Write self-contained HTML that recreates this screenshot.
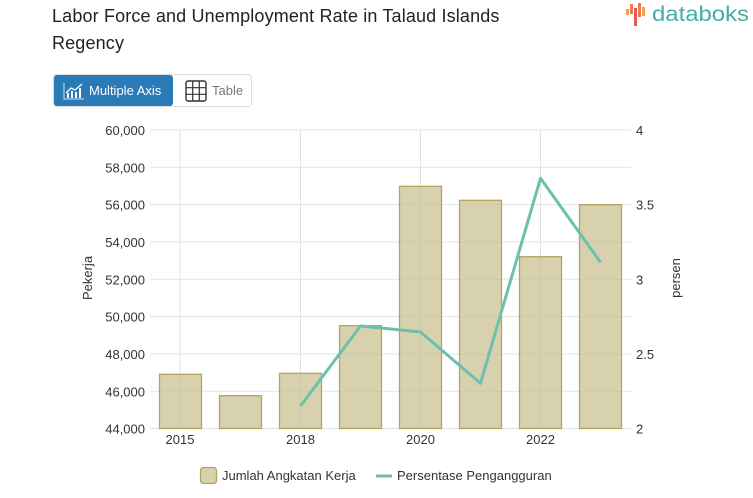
<!DOCTYPE html>
<html><head><meta charset="utf-8"><style>
html,body{margin:0;padding:0;background:#fff;}
body{width:753px;height:498px;position:relative;overflow:hidden;font-family:"Liberation Sans",sans-serif;}
.title{position:absolute;left:52px;top:3px;font-size:18px;line-height:27px;color:#222;width:470px;letter-spacing:0.15px;}
.logo{position:absolute;left:626px;top:0;}
.btns{position:absolute;left:53px;top:74px;width:199px;height:33px;border:1px solid #ddd;border-radius:4px;box-sizing:border-box;}
.b1{position:absolute;left:0;top:0;width:119px;height:31px;background:#2a7ab8;border-radius:3px;color:#fff;font-size:13px;}
.b2{position:absolute;left:119px;top:0;width:79px;height:31px;color:#777;font-size:13px;}
</style></head><body>
<div class="title">Labor Force and Unemployment Rate in Talaud Islands Regency</div>
<svg class="logo" width="127" height="30" viewBox="0 0 127 30">
<rect x="0" y="9" width="3" height="6" fill="#f0a44a"/>
<rect x="4" y="4" width="3" height="10" fill="#ee7a4f"/>
<rect x="8" y="8" width="3" height="18" fill="#e85a4f"/>
<rect x="12" y="3" width="3" height="14" fill="#ee7a4f"/>
<rect x="16" y="7" width="3" height="9" fill="#f0a44a"/>
<text x="26" y="21" font-family="Liberation Sans, sans-serif" font-size="21" fill="#45ada0" textLength="97" lengthAdjust="spacingAndGlyphs">databoks</text>
</svg>
<div class="btns">
<div class="b1">
<svg style="position:absolute;left:9px;top:7px" width="22" height="18" viewBox="0 0 22 18">
<path d="M1 1 V17 H21" stroke="#cfe2f1" stroke-width="1" fill="none"/>
<rect x="4" y="11" width="2" height="5" fill="#fff"/><rect x="8" y="9" width="2" height="7" fill="#fff"/><rect x="12" y="10" width="2" height="6" fill="#fff"/><rect x="16" y="6" width="2" height="10" fill="#fff"/>
<path d="M3 11 L8 6 L12 8 L19 2" stroke="#fff" stroke-width="1.3" fill="none"/>
</svg>
<span style="position:absolute;left:35px;top:8px">Multiple Axis</span></div>
<div class="b2">
<svg style="position:absolute;left:12px;top:5px" width="22" height="22" viewBox="0 0 22 22">
<rect x="1" y="1" width="20" height="20" rx="2" fill="none" stroke="#333" stroke-width="1.4"/>
<path d="M7.7 1V21M14.3 1V21M1 7.7H21M1 14.3H21" stroke="#333" stroke-width="1.2"/>
</svg>
<span style="position:absolute;left:39px;top:8px">Table</span></div>
</div>
<svg style="position:absolute;left:0;top:0" width="753" height="498">
<g stroke="#e3e3e3" stroke-width="1">
<line x1="150" x2="631" y1="130" y2="130"/>
<line x1="150" x2="631" y1="167.3" y2="167.3"/>
<line x1="150" x2="631" y1="204.6" y2="204.6"/>
<line x1="150" x2="631" y1="242" y2="242"/>
<line x1="150" x2="631" y1="279.3" y2="279.3"/>
<line x1="150" x2="631" y1="316.6" y2="316.6"/>
<line x1="150" x2="631" y1="354" y2="354"/>
<line x1="150" x2="631" y1="391.3" y2="391.3"/>
<line x1="150" x2="631" y1="428.5" y2="428.5"/>
<line x1="180" x2="180" y1="130" y2="428.5"/>
<line x1="300.5" x2="300.5" y1="130" y2="428.5"/>
<line x1="420.5" x2="420.5" y1="130" y2="428.5"/>
<line x1="540.5" x2="540.5" y1="130" y2="428.5"/>
</g>
<g fill="rgba(200,190,140,0.7)" stroke="#b5a45c" stroke-width="1.3">
<rect x="159.5" y="374.3" width="42" height="54.2"/>
<rect x="219.5" y="395.7" width="42" height="32.8"/>
<rect x="279.5" y="373.3" width="42" height="55.2"/>
<rect x="339.5" y="325.7" width="42" height="102.8"/>
<rect x="399.5" y="186.3" width="42" height="242.2"/>
<rect x="459.5" y="200.3" width="42" height="228.2"/>
<rect x="519.5" y="256.7" width="42" height="171.8"/>
<rect x="579.5" y="204.7" width="42" height="223.8"/>
</g>
<polyline points="300.5,406 360.5,326 420.5,332 480.5,383.3 540.5,178.3 600.5,262.3" fill="none" stroke="#6cc0ad" stroke-width="3" stroke-linejoin="round"/>
<g font-size="13" fill="#333" text-anchor="end" font-family="Liberation Sans, sans-serif">
<text x="145" y="135">60,000</text>
<text x="145" y="172.3">58,000</text>
<text x="145" y="209.6">56,000</text>
<text x="145" y="247">54,000</text>
<text x="145" y="284.3">52,000</text>
<text x="145" y="321.6">50,000</text>
<text x="145" y="359">48,000</text>
<text x="145" y="396.3">46,000</text>
<text x="145" y="433.5">44,000</text>
</g>
<g font-size="13" fill="#333" font-family="Liberation Sans, sans-serif">
<text x="636" y="135">4</text>
<text x="636" y="209.6">3.5</text>
<text x="636" y="284.3">3</text>
<text x="636" y="359">2.5</text>
<text x="636" y="433.5">2</text>
</g>
<g font-size="13" fill="#333" text-anchor="middle" font-family="Liberation Sans, sans-serif">
<text x="180" y="444">2015</text>
<text x="300.5" y="444">2018</text>
<text x="420.5" y="444">2020</text>
<text x="540.5" y="444">2022</text>
</g>
<text transform="translate(92,278) rotate(-90)" font-size="13" fill="#333" text-anchor="middle" font-family="Liberation Sans, sans-serif">Pekerja</text>
<text transform="translate(680,278) rotate(-90)" font-size="13" fill="#333" text-anchor="middle" font-family="Liberation Sans, sans-serif">persen</text>
<rect x="200.5" y="467.5" width="16" height="16" rx="3" fill="rgba(200,190,140,0.7)" stroke="#b5a45c" stroke-width="1.3"/>
<text x="222" y="480" font-size="13" fill="#333" font-family="Liberation Sans, sans-serif">Jumlah Angkatan Kerja</text>
<line x1="376" x2="392" y1="476" y2="476" stroke="#6cc0ad" stroke-width="3"/>
<text x="397" y="480" font-size="13" fill="#333" font-family="Liberation Sans, sans-serif">Persentase Pengangguran</text>
</svg>
</body></html>
